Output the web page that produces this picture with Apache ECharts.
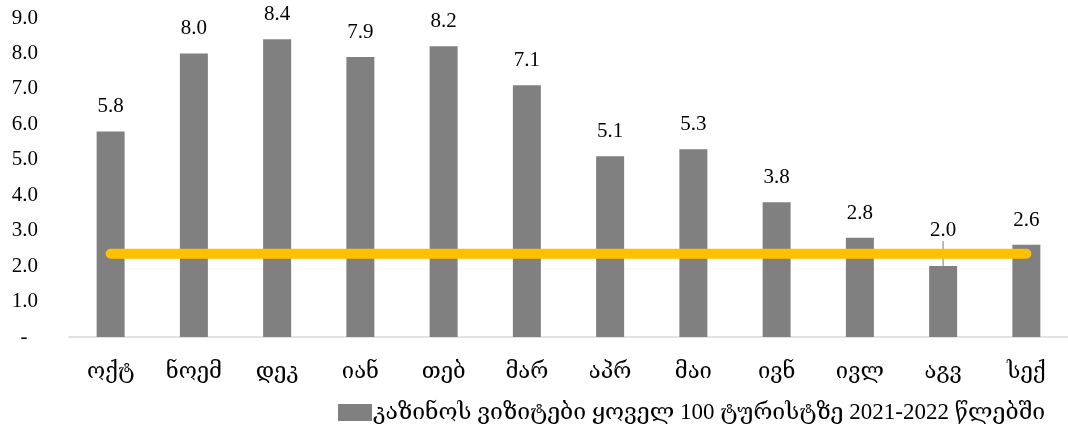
<!DOCTYPE html>
<html><head><meta charset="utf-8">
<script src="https://cdn.jsdelivr.net/npm/echarts@6/dist/echarts.min.js"></script>
<style>html,body{margin:0;padding:0;background:#fff}#c{width:1068px;height:425px}</style>
</head><body><div id="c"></div>
<script>
const categories = ['ოქტ','ნოემ','დეკ','იან','თებ','მარ','აპრ','მაი','ივნ','ივლ','აგვ','სექ'];
const visits = [5.8, 8.0, 8.4, 7.9, 8.2, 7.1, 5.1, 5.3, 3.8, 2.8, 2.0, 2.6];
const refLine = [2.35, 2.35, 2.35, 2.35, 2.35, 2.35, 2.35, 2.35, 2.35, 2.35, 2.35, 2.35];
const seriesName = 'კაზინოს ვიზიტები ყოველ 100 ტურისტზე 2021-2022 წლებში';
const FONT = "'Liberation Serif','DejaVu Serif',serif";

const chart = echarts.init(document.getElementById('c'));
chart.setOption({
  animation: false,
  grid: {left: 69, right: -9, top: 18, bottom: 88, containLabel: false},
  legend: {
    data: [seriesName], left: 333, top: 396,
    itemWidth: 34, itemHeight: 17, itemGap: 4,
    icon: 'rect',
    textStyle: {fontFamily: FONT, fontSize: 23, color: '#000', padding: [0,0,0,-4]}
  },
  xAxis: {
    type: 'category', data: categories,
    axisLine: {lineStyle: {color: '#d9d9d9', width: 1.5}},
    axisTick: {show: false},
    axisLabel: {fontFamily: FONT, fontSize: 22, color: '#000', margin: 24}
  },
  yAxis: {
    type: 'value', min: 0, max: 9, interval: 1,
    splitLine: {show: false},
    axisLine: {show: false}, axisTick: {show: false},
    axisLabel: {
      fontFamily: FONT, fontSize: 21, color: '#000', margin: 31,
      formatter: v => v === 0 ? '-  ' : v.toFixed(1)
    }
  },
  series: [
    {
      name: seriesName, type: 'bar', data: visits, barWidth: 28,
      itemStyle: {color: '#808080'},
      label: {show: true, position: 'top', distance: 14, fontFamily: FONT, fontSize: 21, color: '#000',
        formatter: p => p.value.toFixed(1)},
      labelLine: {show: false, lineStyle: {color: '#a6a6a6', width: 1.5}},
      labelLayout: p => p.dataIndex === 10 ? {dy: -11} : {}
    },
    {
      name: 'ref', type: 'line', data: refLine, symbol: 'none',
      lineStyle: {color: '#FFC000', width: 10, cap: 'round'},
      z: 3
    },
    {
      name: 'leader', type: 'bar', barGap: '-100%', data: visits.map((v, i) => i === 10 ? v : null),
      barWidth: 28, itemStyle: {color: 'transparent'}, silent: true,
      label: {show: true, position: 'top', distance: 14, fontFamily: FONT, fontSize: 21, color: 'transparent',
        formatter: p => p.value.toFixed(1)},
      labelLine: {show: true, lineStyle: {color: '#a6a6a6', width: 1.5}},
      labelLayout: {dy: -11}, z: 1
    }
  ]
});
</script></body></html>
